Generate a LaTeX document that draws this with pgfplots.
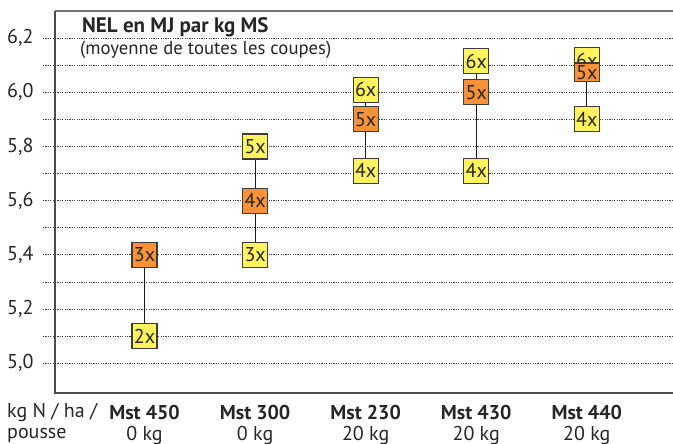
\documentclass[border=0pt]{standalone}
\usepackage{pgfplots}
\pgfplotsset{compat=1.18}
\usepackage{fontspec}
\setmainfont{PT Sans}
\definecolor{yel}{HTML}{FFF35E}
\definecolor{ora}{HTML}{F79238}
\definecolor{bord}{HTML}{3C3C3C}
\begin{document}
\begin{tikzpicture}
\begin{axis}[
  scale only axis,
  width=618pt, height=382pt,
  xmin=-0.81, xmax=4.78,
  ymin=4.89, ymax=6.3,
  axis line style={draw=none},
  xtick={0,1,2,3,4},
  xticklabels={{\textbf{Mst 450}\\0 kg},{\textbf{Mst 300}\\0 kg},{\textbf{Mst 230}\\20 kg},{\textbf{Mst 430}\\20 kg},{\textbf{Mst 440}\\20 kg}},
  xticklabel style={align=center, anchor=north, inner sep=0pt, yshift=0pt, font=\fontsize{20}{21}\selectfont, text=black!85},
  x tick style={draw=none},
  ytick={5.0,5.2,5.4,5.6,5.8,6.0,6.2},
  minor ytick={5.1,5.3,5.5,5.7,5.9,6.1},
  yticklabel style={font=\fontsize{20}{22}\selectfont, text=black!85, xshift=-6pt},
  /pgf/number format/.cd, use comma, fixed, fixed zerofill, precision=1, assume math mode=true,
  /pgfplots/.cd,
  tick align=outside,
  major tick length=12pt, minor tick length=12pt,
  y tick style={dash pattern=on 1.2pt off 1.2pt, line width=0.7pt, black!75},
  ymajorgrids, yminorgrids,
  major grid style={dash pattern=on 1.2pt off 1.2pt, line width=0.7pt, black!75},
  minor grid style={dash pattern=on 1.2pt off 1.2pt, line width=0.7pt, black!75},
  clip=false,
  unbounded coords=jump,
]
\draw[black!55, line width=2.2pt] (rel axis cs:0,1) -- (rel axis cs:1,1);
\draw[black!70, line width=2pt] (rel axis cs:0,1) -- (rel axis cs:0,0) -- (rel axis cs:1,0);

\addplot[black!90, line width=1.1pt, mark=none] coordinates {
 (0,5.1) (0,5.4) (0,nan)
 (1,5.4) (1,5.8) (1,nan)
 (2,5.71) (2,6.01) (2,nan)
 (3,5.71) (3,6.115) (3,nan)
 (4,5.9) (4,6.074)
};

\addplot[only marks, mark=square*, mark size=12.5pt,
  mark options={fill=yel, draw=bord, line width=1.1pt},
  point meta=explicit symbolic,
  nodes near coords,
  every node near coord/.style={anchor=center, inner sep=0pt, font=\fontsize{20}{20}\selectfont, text=black!85}]
 coordinates {
 (0,5.1) [2x]
 (1,5.4) [3x]
 (1,5.8) [5x]
 (2,5.71) [4x]
 (2,6.01) [6x]
 (3,5.71) [4x]
 (3,6.115) [6x]
 (4,5.9) [4x]
 (4,6.118) [6x]
};

\addplot[only marks, mark=square*, mark size=12.5pt,
  mark options={fill=ora, draw=bord, line width=1.1pt},
  point meta=explicit symbolic,
  nodes near coords,
  every node near coord/.style={anchor=center, inner sep=0pt, font=\fontsize{20}{20}\selectfont, text=black!85}]
 coordinates {
 (0,5.4) [3x]
 (1,5.6) [4x]
 (2,5.9) [5x]
 (3,6.0) [5x]
};

\addplot[only marks, mark=square*, mark size=12.5pt,
  mark options={fill=ora, draw=bord, line width=1.1pt, yscale=0.74},
  point meta=explicit symbolic,
  nodes near coords,
  every node near coord/.style={anchor=center, inner sep=0pt, font=\fontsize{20}{20}\selectfont, text=black!85}]
 coordinates {
 (4,6.074) [5x]
};

\node[anchor=base west, inner sep=0pt, font=\bfseries\fontsize{21}{22}\selectfont, text=black!85]
  at ([xshift=27pt, yshift=-22pt]rel axis cs:0,1) {NEL en MJ par kg MS};
\node[anchor=base west, inner sep=0pt, font=\fontsize{18.7}{22}\selectfont, text=black!85]
  at ([xshift=25pt, yshift=-44pt]rel axis cs:0,1) {(moyenne de toutes les coupes)};
\node[anchor=north west, align=left, inner sep=0pt, font=\fontsize{20}{21}\selectfont, text=black!85]
  at ([xshift=-48pt, yshift=-10.5pt]rel axis cs:0,0) {kg N / ha /\\pousse};
\end{axis}
\pgfresetboundingbox
\path[use as bounding box] ([shift={(-55pt,-51pt)}]current axis.south west) rectangle ([shift={(0pt,11pt)}]current axis.north east);
\end{tikzpicture}
\end{document}
